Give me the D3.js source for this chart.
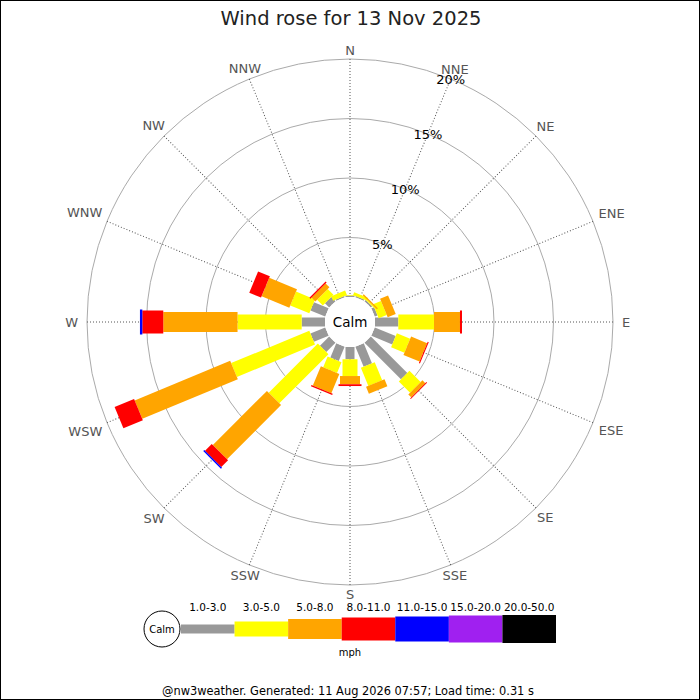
<!DOCTYPE html>
<html>
<head>
<meta charset="utf-8">
<script src="https://cdn.jsdelivr.net/npm/d3@7"></script>
<style>
  body { margin: 0; background: #fff; }
  text { font-family: "DejaVu Sans", sans-serif; }
</style>
</head>
<body>
<div id="chart"></div>
<script>
// wind rose data (percent of time per direction and speed bin)
const directions = ["N", "NNE", "NE", "ENE", "E", "ESE", "SE", "SSE",
                    "S", "SSW", "SW", "WSW", "W", "WNW", "NW", "NNW"];
const speedBins = ["1.0-3.0", "3.0-5.0", "5.0-8.0", "8.0-11.0", "11.0-15.0", "15.0-20.0", "20.0-50.0"];

const freq_1_3   = [0.12, 0.10, 0.15, 0.25, 1.96, 1.90, 4.33, 1.81, 1.03, 1.29, 1.09, 1.34, 1.96, 1.34, 0.50, 0.10];
const freq_3_5   = [0.05, 0.25, 0.10, 0.73, 3.00, 1.21, 1.34, 1.64, 1.41, 0.98, 5.84, 7.11, 5.39, 1.73, 0.68, 0.40];
const freq_5_8   = [0,    0,    0.12, 0.73, 2.18, 1.46, 0.34, 0.63, 0.69, 1.76, 6.43, 8.69, 6.24, 2.52, 0.46, 0];
const freq_8_11  = [0,    0,    0,    0,    0.17, 0.09, 0.08, 0,    0.15, 0.11, 0.80, 1.77, 1.76, 1.07, 0.12, 0];
const freq_11_15 = [0,    0,    0,    0,    0,    0,    0,    0,    0,    0,    0.13, 0,    0.20, 0,    0,    0];
const freq_15_20 = [0,    0,    0,    0,    0,    0,    0,    0,    0,    0,    0,    0,    0,    0,    0,    0];
const freq_20_50 = [0,    0,    0,    0,    0,    0,    0,    0,    0,    0,    0,    0,    0,    0,    0,    0];

const ringTicks = [5, 10, 15, 20];

const binColors = ["#999999", "#ffff00", "#ffa500", "#ff0000", "#0000ff", "#a020f0", "#000000"];
const binWidths = [9, 15, 20, 23, 25, 27, 28];

const width = 700, height = 700;
const cx = 350, cy = 322;
const calmR = 25;

const svg = d3.select("#chart")
    .append("svg")
    .attr("width", width)
    .attr("height", height);

svg.append("rect")
    .attr("x", 0.5).attr("y", 0.5)
    .attr("width", width - 1).attr("height", height - 1)
    .attr("fill", "#fff")
    .attr("stroke", "#000");

// 标题
svg.append("text")
    .attr("x", 351)
    .attr("y", 25)
    .attr("text-anchor", "middle")
    .style("font-size", "19.5px")
    .attr("fill", "#222")
    .text("Wind rose for 13 Nov 2025");

const g = svg.append("g").attr("transform", `translate(${cx},${cy})`);

// scales
const r = d3.scaleLinear().domain([0, 20]).range([calmR, 263]);
const angle = d3.scaleBand().domain(directions).range([0, 360]);
const rad = d => angle(d) * Math.PI / 180;

// rings
g.selectAll("circle.ring")
    .data(ringTicks)
    .enter()
    .append("circle")
    .attr("class", "ring")
    .attr("r", d => r(d))
    .attr("fill", "none")
    .attr("stroke", "#aaa")
    .attr("stroke-width", 1);

// spokes
g.selectAll("line.spoke")
    .data(directions)
    .enter()
    .append("line")
    .attr("class", "spoke")
    .attr("x1", 0).attr("y1", -calmR)
    .attr("x2", 0).attr("y2", -r(20))
    .attr("transform", d => `rotate(${angle(d)})`)
    .attr("stroke", "#555")
    .attr("stroke-width", 1)
    .attr("stroke-dasharray", "1,2");

// stacked bars
const table = directions.map((d, i) => ({
    dir: d,
    b0: freq_1_3[i], b1: freq_3_5[i], b2: freq_5_8[i], b3: freq_8_11[i],
    b4: freq_11_15[i], b5: freq_15_20[i], b6: freq_20_50[i]
}));
const keys = ["b0", "b1", "b2", "b3", "b4", "b5", "b6"];
const series = d3.stack().keys(keys)(table);

series.forEach((s, k) => {
    g.append("g")
        .selectAll("rect")
        .data(s.filter(d => d[1] - d[0] > 0))
        .enter()
        .append("rect")
        .attr("transform", d => `rotate(${angle(d.data.dir)})`)
        .attr("x", -binWidths[k] / 2)
        .attr("width", binWidths[k])
        .attr("y", d => -r(d[1]))
        .attr("height", d => r(d[1]) - r(d[0]))
        .attr("fill", binColors[k]);
});

// calm circle
g.append("circle")
    .attr("r", calmR)
    .attr("fill", "#fff");

g.append("text")
    .attr("x", 0).attr("y", 0)
    .attr("dy", "0.36em")
    .attr("text-anchor", "middle")
    .style("font-size", "13.5px")
    .attr("fill", "#000")
    .text("Calm");

// direction labels, wider labels pushed out more towards east/west
const dirLabels = g.selectAll("text.dir")
    .data(directions)
    .enter()
    .append("text")
    .attr("class", "dir")
    .attr("dy", "0.36em")
    .attr("text-anchor", "middle")
    .style("font-size", "13px")
    .attr("fill", "#555")
    .text(d => d);

dirLabels.each(function(d) {
    const hw = this.getComputedTextLength() / 2;
    const a = rad(d);
    const s = Math.sin(a);
    const dist = 272 + hw * s * s;
    d3.select(this)
        .attr("x", dist * s)
        .attr("y", -dist * Math.cos(a));
});

// ring labels along NNE
const lblAng = rad("NNE");
g.selectAll("text.pct")
    .data(ringTicks)
    .enter()
    .append("text")
    .attr("class", "pct")
    .attr("x", d => r(d) * Math.sin(lblAng))
    .attr("y", d => -r(d) * Math.cos(lblAng))
    .attr("dy", "0.36em")
    .attr("text-anchor", "middle")
    .style("font-size", "13px")
    .attr("fill", "#000")
    .text(d => d + "%");

// 图例
const legY = 629;
const lx = d3.scaleBand().domain(speedBins).range([181, 556]);

svg.append("circle")
    .attr("cx", 162).attr("cy", legY)
    .attr("r", 18)
    .attr("fill", "#fff")
    .attr("stroke", "#000");

svg.append("text")
    .attr("x", 162).attr("y", legY)
    .attr("dy", "0.36em")
    .attr("text-anchor", "middle")
    .style("font-size", "10px")
    .text("Calm");

svg.selectAll("rect.leg")
    .data(speedBins)
    .enter()
    .append("rect")
    .attr("class", "leg")
    .attr("x", d => lx(d))
    .attr("width", lx.bandwidth())
    .attr("y", (d, i) => legY - binWidths[i] / 2)
    .attr("height", (d, i) => binWidths[i])
    .attr("fill", (d, i) => binColors[i]);

svg.selectAll("text.leg")
    .data(speedBins)
    .enter()
    .append("text")
    .attr("class", "leg")
    .attr("x", d => lx(d) + lx.bandwidth() / 2)
    .attr("y", 611)
    .attr("text-anchor", "middle")
    .style("font-size", "10.5px")
    .text(d => d);

svg.append("text")
    .attr("x", 350).attr("y", 656)
    .attr("text-anchor", "middle")
    .style("font-size", "10px")
    .text("mph");

svg.append("text")
    .attr("x", 348).attr("y", 695)
    .attr("text-anchor", "middle")
    .style("font-size", "11.4px")
    .text("@nw3weather. Generated: 11 Aug 2026 07:57; Load time: 0.31 s");
</script>
</body>
</html>
